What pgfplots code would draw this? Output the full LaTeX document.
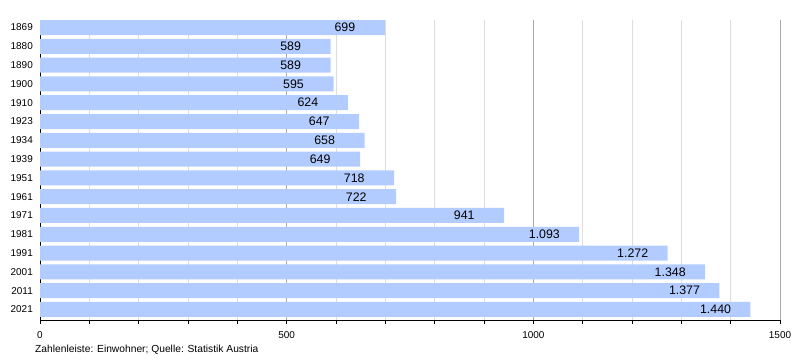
\documentclass[border=0pt]{standalone}
\usepackage{fontspec}
\setmainfont{Liberation Sans}
\usepackage{pgfplots}
\pgfplotsset{compat=1.18}
\definecolor{barblue}{RGB}{179,204,255}
\definecolor{majgrid}{RGB}{170,170,170}
\definecolor{mingrid}{RGB}{221,221,221}
\begin{document}
\begin{tikzpicture}
\path[use as bounding box] (-40bp,-40bp) rectangle (760bp,320bp);
\begin{axis}[
  scale only axis,
  width=740bp, height=300bp,
  xbar, bar width=15bp,
  xmin=0, xmax=1500,
  ymin=-0.56, ymax=15.4,
  xtick={0,500,1000,1500},
  minor x tick num=4,
  ytick={0,...,15},
  yticklabels={2021,2011,2001,1991,1981,1971,1961,1951,1939,1934,1923,1910,1900,1890,1880,1869},
  axis x line*=bottom, axis y line*=left,
  axis line style={black, line width=0.8bp},
  xmajorgrids, xminorgrids,
  major grid style={majgrid, line width=0.8bp},
  minor grid style={mingrid, line width=0.8bp},
  tick align=outside,
  x tick style={black, line width=0.8bp},
  major tick length=4bp, minor tick length=4bp,
  y tick style={draw=none},
  /pgf/number format/assume math mode=true,
  /pgf/number format/1000 sep={},
  x tick label style={font=\fontsize{10}{12}\selectfont, anchor=north, inner sep=0pt, yshift=-7.7bp},
  y tick label style={font=\fontsize{10}{12}\selectfont, anchor=east, inner sep=0pt, xshift=-3bp},
  nodes near coords={\pgfmathprintnumber[fixed,precision=0,1000 sep={.},assume math mode=true]{\pgfplotspointmeta}},
  nodes near coords style={font=\fontsize{12.4}{14}\selectfont, anchor=west, inner sep=0pt, xshift=-50.5bp, text=black},
  clip=false,
]
\addplot[fill=barblue, draw=none] coordinates {
(1440,0) (1377,1) (1348,2) (1272,3) (1093,4) (941,5) (722,6) (718,7)
(649,8) (658,9) (647,10) (624,11) (595,12) (589,13) (589,14) (699,15)
};
\node[anchor=base west, inner sep=0pt, font=\fontsize{10.3}{12}\selectfont] at ([xshift=-5bp,yshift=-32.5bp]rel axis cs:0,0) {Zahlenleiste: Einwohner; Quelle: Statistik Austria};
\end{axis}
\end{tikzpicture}
\end{document}
